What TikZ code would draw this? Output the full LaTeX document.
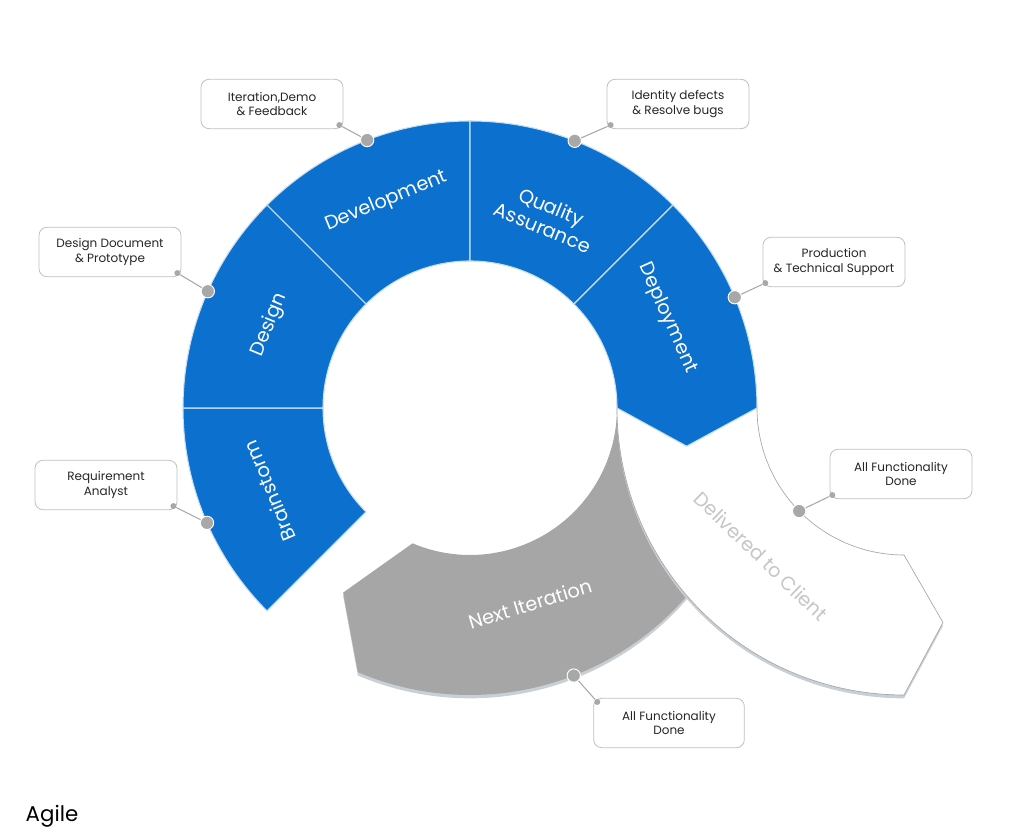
\documentclass[tikz,border=0pt]{standalone}
\usepackage{fontspec}
\setmainfont{Poppins}
\usetikzlibrary{calc,positioning}
\definecolor{agileblue}{RGB}{11,112,206}
\definecolor{edgeblue}{RGB}{196,222,242}
\definecolor{itergray}{RGB}{166,166,166}
\definecolor{shadowgray}{RGB}{200,208,214}
\definecolor{dotgray}{RGB}{168,168,168}
\definecolor{boxline}{RGB}{192,192,192}
\definecolor{clientgray}{RGB}{198,198,198}

\begin{document}
\begin{tikzpicture}[x=0.75pt,y=0.75pt,
  seg/.style={fill=agileblue,draw=edgeblue,line width=0.8pt},
  lbl/.style={text=white,font=\fontsize{14.5}{17}\selectfont,align=center,inner sep=0pt},
  note/.style={draw=boxline,fill=white,rounded corners=6pt,line width=0.6pt,
    minimum width=106.5pt,minimum height=37pt,align=center,inner sep=1pt,
    font=\fontsize{9}{11}\selectfont,text=black!85},
  bigdot/.style={circle,fill=dotgray,draw=white,line width=0.7pt,inner sep=0pt,minimum size=10pt},
  tinydot/.style={circle,fill=dotgray,inner sep=0pt,minimum size=4.5pt},
  wire/.style={draw=dotgray,line width=0.8pt}]
\useasboundingbox (0,0) rectangle (1024,838);
\coordinate (C) at (470,430);
\coordinate (W) at (904,430);

% next iteration, the grey loop back
\begin{scope}[shift={(C)}]
  \fill[shadowgray,yshift=-2.5] (0:147) -- (0:287) arc[start angle=0,end angle=-113,radius=287]
     -- (-124.5:224) -- (-113:147) arc[start angle=-113,end angle=0,radius=147] -- cycle;
  \fill[itergray] (0:147) -- (0:287) arc[start angle=0,end angle=-113,radius=287]
     -- (-124.5:224) -- (-113:147) arc[start angle=-113,end angle=0,radius=147] -- cycle;
\end{scope}

% delivered to client, white arm
\begin{scope}[shift={(W)}]
  \fill[shadowgray,yshift=-2.5] (180:147) -- (180:287) arc[start angle=180,end angle=270,radius=287]
     -- (280.3:218) -- (270:147) arc[start angle=270,end angle=180,radius=147] -- cycle;
  \filldraw[fill=white,draw=gray!70,line width=0.5pt] (180:147) -- (180:287)
     arc[start angle=180,end angle=270,radius=287]
     -- (280.3:218) -- (270:147) arc[start angle=270,end angle=180,radius=147] -- cycle;
  \node[lbl,text=clientgray,rotate=-44] (client) at (226:206) {Delivered to Client};
\end{scope}

% the five blue phases
\begin{scope}[shift={(C)}]
  \foreach \a/\b in {225/180,180/135,135/90,90/45}
    \filldraw[seg] (\a:147) -- (\a:287) arc[start angle=\a,end angle=\b,radius=287]
       -- (\b:147) arc[start angle=\b,end angle=\a,radius=147] -- cycle;
  \filldraw[seg] (45:147) -- (45:287) arc[start angle=45,end angle=0,radius=287]
     -- (-10:220) -- (0:147) arc[start angle=0,end angle=45,radius=147] -- cycle;

  \node[lbl,rotate=112.5] (brain) at (202.5:217) {Brainstorm};
  \node[lbl,rotate=67.5] (design) at (157.5:217) {Design};
  \node[lbl,rotate=22.5] (devel) at (112:223) {Development};
  \node[lbl,rotate=-22.5] (qa) at (68:206) {Quality\\Assurance};
  \node[lbl,rotate=-66] (deploy) at (24.5:217) {Deployment};
  \node[lbl,rotate=17] (next) at (-73:205) {Next Iteration};

  % anchor dots on the rim
  \node[bigdot] (d1) at (203.6:287) {};
  \node[bigdot] (d2) at (156:287) {};
  \node[bigdot] (d3) at (111:287) {};
  \node[bigdot] (d4) at (68.6:287) {};
  \node[bigdot] (d5) at (22.7:287) {};
  \node[bigdot] (d7) at (-68.8:287) {};
\end{scope}
\node[bigdot] (d6) at ($(W)+(224.5:147)$) {};

% callouts
\node[note] (n1) at (106,353) {Requirement\\Analyst};
\node[note] (n2) at (110,586) {Design Document\\\& Prototype};
\node[note] (n3) at (272,734) {Iteration,Demo\\\& Feedback};
\node[note] (n4) at (678,734) {Identity defects\\\& Resolve bugs};
\node[note] (n5) at (834,576) {Production\\\& Technical Support};
\node[note] (n6) at (901,364) {All Functionality\\Done};
\node[note,minimum width=113pt] (n7) at (669,115) {All Functionality\\Done};

\node[tinydot] (t1) at ([shift={(-3pt,3pt)}]n1.south east) {};
\node[tinydot] (t2) at ([shift={(-3pt,3pt)}]n2.south east) {};
\node[tinydot] (t3) at ([shift={(-3pt,3pt)}]n3.south east) {};
\node[tinydot] (t4) at ([shift={(3pt,3pt)}]n4.south west) {};
\node[tinydot] (t5) at ([shift={(2pt,3pt)}]n5.south west) {};
\node[tinydot] (t6) at ([shift={(2pt,3pt)}]n6.south west) {};
\node[tinydot] (t7) at ([shift={(3pt,-3pt)}]n7.north west) {};
\foreach \i in {1,...,7}
  \draw[wire] (t\i) -- (d\i);

\node[anchor=base west,font=\fontsize{16}{19}\selectfont] (title) at (21,16) {Agile};
\end{tikzpicture}
\end{document}
